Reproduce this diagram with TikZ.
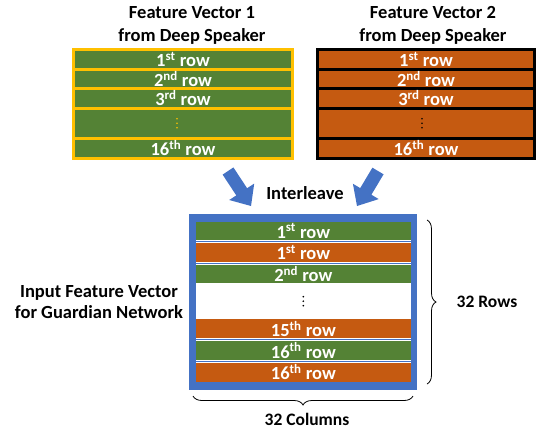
\documentclass[tikz,border=0pt]{standalone}
\usepackage{fontspec}
\setmainfont{Carlito}
\usetikzlibrary{decorations.pathreplacing,calc}
\definecolor{fgreen}{HTML}{548235}
\definecolor{forange}{HTML}{C55A11}
\definecolor{fyellow}{HTML}{FFC000}
\definecolor{fblue}{HTML}{4472C4}
\begin{document}
\begin{tikzpicture}[x=1pt,y=-1pt,
  lbl/.style={font=\fontsize{18.5}{23}\selectfont\bfseries, inner sep=0pt, align=center},
  slbl/.style={font=\fontsize{17.5}{21}\selectfont\bfseries, inner sep=0pt},
  rowtxt/.style={inner sep=0pt, text=white, font=\fontsize{18.5}{20}\selectfont\bfseries},
  rowA/.style={rowtxt, minimum width=216pt, fill=fgreen},
  rowB/.style={rowtxt, minimum width=214pt, fill=forange},
  rowG/.style={rowtxt, minimum width=214.7pt, fill=fgreen},
  rowO/.style={rowtxt, minimum width=214.7pt, fill=forange},
  blockarrow/.style={fill=fblue},
  bracestyle/.style={decorate, decoration={brace, amplitude=9pt}, line width=0.8pt, black}
]
\useasboundingbox (0,0) rectangle (536,429);

% titles
\node[lbl] (t1) at (192,25.5) {Feature Vector 1\\from Deep Speaker};
\node[lbl] (t2) at (433,25.5) {Feature Vector 2\\from Deep Speaker};

% box 1
\node[fill=fyellow, minimum width=222pt, minimum height=111.5pt, inner sep=0pt] (box1) at (183,103.75) {};
\node[rowA, minimum height=16.5pt] (a1) at (183,59.25) {1\textsuperscript{st} row};
\node[rowA, minimum height=16.5pt] (a2) at (183,78.75) {2\textsuperscript{nd} row};
\node[rowA, minimum height=16.5pt] (a3) at (183,98.25) {3\textsuperscript{rd} row};
\node[rowA, minimum height=27.5pt] (a4) at (183,123.25) {};
\node[rowA, minimum height=16.5pt] (a5) at (183,148.25) {16\textsuperscript{th} row};
\foreach \dy in {-4.5,0,4.5} \fill[fyellow] ($(a4.center)+(-6,\dy)$) circle (0.9);

% box 2
\node[fill=black, minimum width=220pt, minimum height=111.5pt, inner sep=0pt] (box2) at (426,103.75) {};
\node[rowB, minimum height=16.5pt] (b1) at (426,59.25) {1\textsuperscript{st} row};
\node[rowB, minimum height=16.5pt] (b2) at (426,78.75) {2\textsuperscript{nd} row};
\node[rowB, minimum height=16.5pt] (b3) at (426,98.25) {3\textsuperscript{rd} row};
\node[rowB, minimum height=27.5pt] (b4) at (426,123.25) {};
\node[rowB, minimum height=16.5pt] (b5) at (426,148.25) {16\textsuperscript{th} row};
\foreach \dy in {-4.5,0,4.5} \fill[black] ($(b4.center)+(-4,\dy)$) circle (0.9);

% arrows
\fill[blockarrow] (233.4,167.4) -- (222.6,174.6) -- (236.3,195.4) -- (229.2,200.0) -- (251,206) -- (254.2,183.6) -- (247.1,188.2) -- cycle;
\fill[blockarrow] (383.6,174.3) -- (372.4,167.7) -- (360.2,188.1) -- (352.9,183.7) -- (357,206) -- (378.7,199.1) -- (371.4,194.7) -- cycle;
\node[lbl] (il) at (305,193) {Interleave};

% interleaved box
\node[fill=fblue, minimum width=228pt, minimum height=176pt, inner sep=0pt] (box3) at (303.3,302.2) {};
\node[fill=white, minimum width=214.7pt, minimum height=160pt, inner sep=0pt] (bg3) at (303.35,301.7) {};
\foreach \yy in {241.65,263.35,339.65,361.35} \draw[fblue, line width=0.9pt] ($(bg3.west)+(0,\yy-301.7)$) -- ($(bg3.east)+(0,\yy-301.7)$);
\node[rowG, minimum height=18.3pt] (c1) at (303.35,230.85) {1\textsuperscript{st} row};
\node[rowO, minimum height=18.4pt] (c2) at (303.35,252.5) {1\textsuperscript{st} row};
\node[rowG, minimum height=17.7pt] (c3) at (303.35,273.85) {2\textsuperscript{nd} row};
\coordinate (c4) at (303.35,301.2);
\foreach \dy in {-4.5,0,4.5} \fill[black] ($(c4)+(0,\dy)$) circle (0.9);
\node[rowO, minimum height=19pt] (c5) at (303.35,328.8) {15\textsuperscript{th} row};
\node[rowG, minimum height=19pt] (c6) at (303.35,350.5) {16\textsuperscript{th} row};
\node[rowO, minimum height=19pt] (c7) at (303.35,372.2) {16\textsuperscript{th} row};

% left label
\node[lbl, font=\fontsize{18.5}{21}\selectfont\bfseries] (inlbl) at (99,302.5) {Input Feature Vector\\for Guardian Network};

% braces
\coordinate (rbt) at (427,220);
\coordinate (rbb) at (427,384);
\draw[bracestyle] (rbt) -- (rbb);
\node[slbl] (rows) at (487,302) {32 Rows};
\coordinate (bbl) at (193,396);
\coordinate (bbr) at (413,396);
\draw[bracestyle] (bbr) -- (bbl);
\node[slbl] (cols) at (307,419) {32 Columns};
\end{tikzpicture}
\end{document}
